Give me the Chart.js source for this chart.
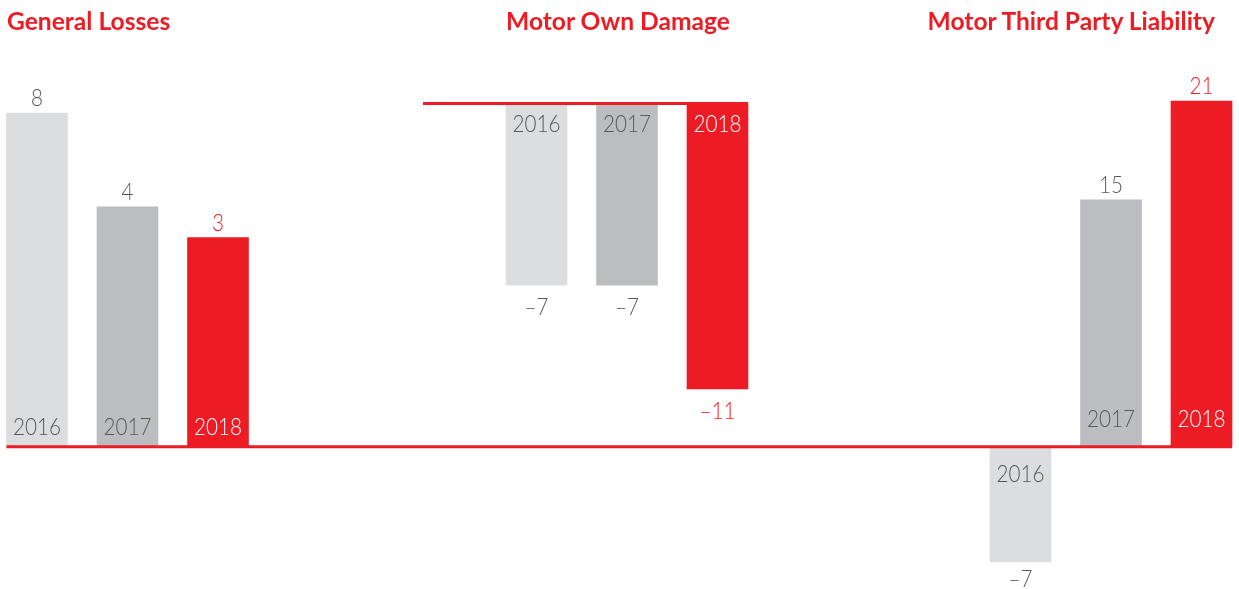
<!DOCTYPE html>
<html>
<head>
<meta charset="utf-8">
<script src="https://cdn.jsdelivr.net/npm/chart.js@4/dist/chart.umd.min.js"></script>
<style>
  html, body { margin: 0; padding: 0; background: #ffffff; }
  #wrap { position: relative; width: 1239px; height: 589px; overflow: hidden; }
  #wrap canvas { position: absolute; left: 0; top: 0; }
  .title { position: absolute; top: 6px; font-family: Lato, "Open Sans", sans-serif; font-weight: 700;
           font-size: 24.6px; color: #ed1c24; white-space: nowrap; line-height: 30px; }
</style>
</head>
<body>
<div id="wrap">
  <canvas id="c1" width="1239" height="589"></canvas>
  <canvas id="c2" width="1239" height="589"></canvas>
  <canvas id="c3" width="1239" height="589"></canvas>
  <div class="title" id="t1" style="left:7px;"></div>
  <div class="title" id="t2" style="left:618px;transform:translateX(-50%);"></div>
  <div class="title" id="t3" style="right:24px;"></div>
</div>
<script>
// ---- data ----
const categories = ['2016', '2017', '2018'];
const panelTitles = ['General Losses', 'Motor Own Damage', 'Motor Third Party Liability'];
const generalLosses = [8, 4, 3];
const motorOwnDamage = [-7, -7, -11];
const motorThirdParty = [-7, 15, 21];

// ---- styles ----
const RED = '#ed1c24';
const barColors = ['#dcdddf', '#bcbdc0', RED];
const valueColors = ['#58595b', '#58595b', RED];
const yearColors = ['#58595b', '#58595b', '#ffffff'];
const FONT = '300 23px Lato, "Open Sans", sans-serif';
const TEXT_SQUEEZE = 0.9;

document.getElementById('t1').textContent = panelTitles[0];
document.getElementById('t2').textContent = panelTitles[1];
document.getElementById('t3').textContent = panelTitles[2];

// power (root) scale used by the first panel, as the reference draws it
class PowerScale extends Chart.LinearScale {
  _t(v) { const p = this.options.exponent || 1; return Math.sign(v) * Math.pow(Math.abs(v), p); }
  getPixelForValue(v) {
    if (v === null || isNaN(v)) return NaN;
    const a = this._t(this.min), b = this._t(this.max);
    return this.getPixelForDecimal((this._t(v) - a) / (b - a));
  }
  getValueForPixel(px) {
    const p = this.options.exponent || 1;
    const a = this._t(this.min), b = this._t(this.max);
    const t = a + this.getDecimalForPixel(px) * (b - a);
    return Math.sign(t) * Math.pow(Math.abs(t), 1 / p);
  }
}
PowerScale.id = 'power';
PowerScale.defaults = Chart.LinearScale.defaults;
Chart.register(PowerScale);

function drawText(ctx, text, x, y) {
  ctx.save();
  ctx.translate(x, y);
  ctx.scale(TEXT_SQUEEZE, 1);
  ctx.fillText(text, 0, 0);
  ctx.restore();
}

const labelPlugin = {
  id: 'barLabels',
  afterDatasetsDraw(chart, args, opts) {
    const ctx = chart.ctx;
    const meta = chart.getDatasetMeta(0);
    const vals = chart.data.datasets[0].data;
    ctx.save();
    ctx.font = FONT;
    ctx.textAlign = 'center';
    ctx.textBaseline = 'alphabetic';
    meta.data.forEach((bar, i) => {
      const v = vals[i];
      const pos = v >= 0;
      const label = v < 0 ? '\u2013' + Math.abs(v) : String(v);
      ctx.fillStyle = valueColors[i];
      drawText(ctx, label, bar.x, pos ? bar.y - opts.valPos : bar.y + opts.valNeg);
      ctx.fillStyle = yearColors[i];
      drawText(ctx, chart.data.labels[i], bar.x, pos ? bar.base - opts.yearPos : bar.base + opts.yearNeg);
    });
    ctx.restore();
  }
};

function makeChart(id, values, yScale, padding, labelOpts, extraPlugins) {
  return new Chart(document.getElementById(id), {
    type: 'bar',
    data: {
      labels: categories,
      datasets: [{
        data: values,
        backgroundColor: barColors,
        borderWidth: 0,
        barThickness: 61,
        clip: false
      }]
    },
    options: {
      responsive: false,
      animation: false,
      devicePixelRatio: 1,
      layout: { padding: padding },
      plugins: { legend: { display: false }, tooltip: { enabled: false }, barLabels: labelOpts },
      scales: {
        x: { type: 'category', offset: false, display: false, grid: { display: false } },
        y: Object.assign({ display: false, grid: { display: false } }, yScale)
      }
    },
    plugins: [labelPlugin].concat(extraPlugins || [])
  });
}

const chart1 = makeChart('c1', generalLosses,
  { type: 'power', exponent: 0.476, min: 0, max: 8 },
  { left: 37, right: 1021, top: 113, bottom: 142 },
  { valPos: 7, valNeg: 28, yearPos: 12, yearNeg: 28 });

const chart2 = makeChart('c2', motorOwnDamage,
  { type: 'linear', min: -11, max: 0 },
  { left: 536.5, right: 521.5, top: 103.5, bottom: 200 },
  { valPos: 7, valNeg: 30, yearPos: 12, yearNeg: 28 });

const baselinePlugin = {
  id: 'baselines',
  afterDatasetsDraw(chart) {
    const ctx = chart.ctx;
    ctx.save();
    ctx.strokeStyle = RED;
    ctx.lineWidth = 3;
    // common zero line for panels 1 and 3
    const b1 = chart1.getDatasetMeta(0).data[0];
    const b3 = chart.getDatasetMeta(0).data[2];
    const y0 = chart.scales.y.getPixelForValue(0);
    ctx.beginPath();
    ctx.moveTo(b1.x - b1.width / 2, y0);
    ctx.lineTo(b3.x + b3.width / 2, y0);
    ctx.stroke();
    // zero line of panel 2 (at the top)
    const m2 = chart2.getDatasetMeta(0).data;
    const y2 = chart2.scales.y.getPixelForValue(0);
    ctx.beginPath();
    ctx.moveTo(m2[0].x - m2[0].width / 2 - 83, y2);
    ctx.lineTo(m2[2].x + m2[2].width / 2, y2);
    ctx.stroke();
    ctx.restore();
  }
};

const chart3 = makeChart('c3', motorThirdParty,
  { type: 'linear', min: -7, max: 21 },
  { left: 1020.5, right: 37.5, top: 101, bottom: 27 },
  { valPos: 7, valNeg: 25, yearPos: 20, yearNeg: 35 },
  [baselinePlugin]);
</script>
</body>
</html>
